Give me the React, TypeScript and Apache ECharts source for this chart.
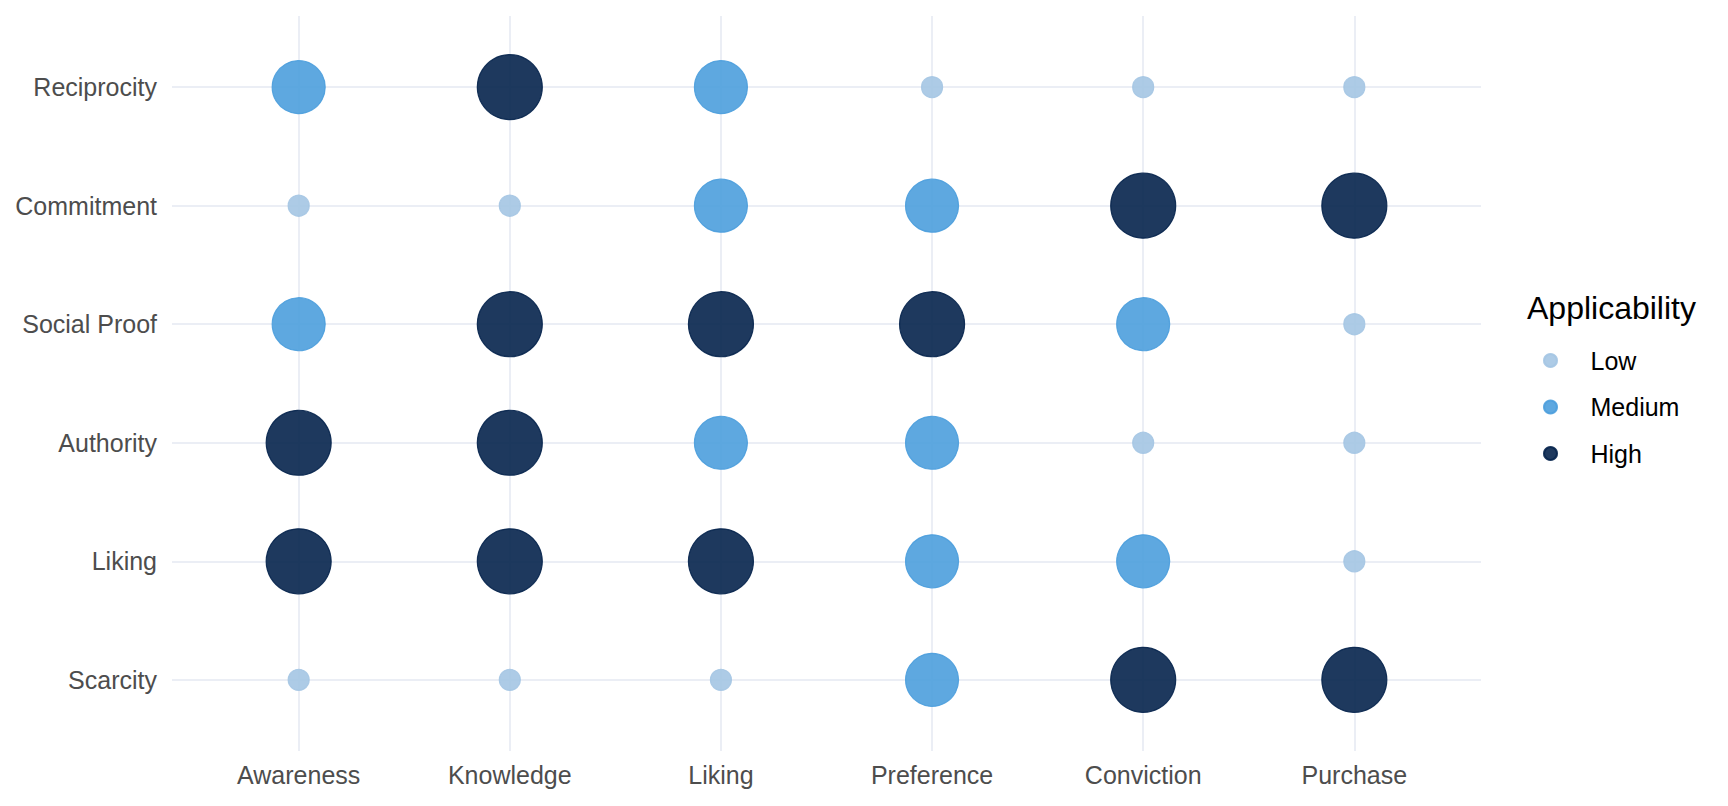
import React, { useEffect, useRef } from "react";
import * as echarts from "echarts";

const stages = ["Awareness", "Knowledge", "Liking", "Preference", "Conviction", "Purchase"];
const principles = ["Reciprocity", "Commitment", "Social Proof", "Authority", "Liking", "Scarcity"];
const levels = ["Low", "Medium", "High"];

// applicability per principle, one entry per stage
const reciprocity = ["Medium", "High", "Medium", "Low", "Low", "Low"];
const commitment = ["Low", "Low", "Medium", "Medium", "High", "High"];
const socialProof = ["Medium", "High", "High", "High", "Medium", "Low"];
const authority = ["High", "High", "Medium", "Medium", "Low", "Low"];
const liking = ["High", "High", "High", "Medium", "Medium", "Low"];
const scarcity = ["Low", "Low", "Low", "Medium", "High", "High"];

const matrix = [reciprocity, commitment, socialProof, authority, liking, scarcity];

const levelColors: Record<string, string> = {
  Low: "rgba(164,197,227,0.9)",
  Medium: "rgba(76,158,221,0.9)",
  High: "rgba(6,36,77,0.9)",
};
const levelSizes: Record<string, number> = { Low: 21, Medium: 53, High: 65 };

const FONT = "'Liberation Sans', Arial, Helvetica, sans-serif";
const GRID_COLOR = "#ebeef5";
const idx = [0, 1, 2, 3, 4, 5];

export default function App() {
  const ref = useRef<HTMLDivElement>(null);
  useEffect(() => {
    if (!ref.current) return;
    const chart = echarts.init(ref.current, null, { renderer: "svg" });
    const series = levels.map((lv) => {
      const data: number[][] = [];
      matrix.forEach((row, yi) => {
        row.forEach((v, xi) => {
          if (v === lv) data.push([xi, yi]);
        });
      });
      return {
        name: lv,
        type: "scatter",
        data,
        symbol: "circle",
        symbolSize: levelSizes[lv],
        itemStyle: {
          color: levelColors[lv],
          borderColor: levelColors[lv],
          borderWidth: 1.2,
          opacity: 1,
        },
        emphasis: { disabled: true },
      };
    });
    chart.setOption({
      animation: false,
      backgroundColor: "#ffffff",
      textStyle: { fontFamily: FONT },
      title: {
        text: "Applicability",
        left: 1527,
        top: 292,
        padding: 0,
        textStyle: { fontFamily: FONT, fontSize: 32, fontWeight: "normal", color: "#000000" },
      },
      legend: {
        orient: "vertical",
        left: 1543,
        top: 348,
        padding: 0,
        itemWidth: 70,
        itemHeight: 13,
        itemGap: 21.5,
        symbolKeepAspect: true,
        icon: "circle",
        data: levels,
        selectedMode: false,
        itemStyle: { opacity: 1 },
        textStyle: { fontFamily: FONT, fontSize: 25, color: "#000000", lineHeight: 24 },
      },
      grid: { left: 172, right: 247, top: 16, bottom: 55 },
      xAxis: {
        type: "value",
        min: -0.6,
        max: 5.6,
        axisLine: { show: false },
        axisTick: { show: false, customValues: idx },
        axisLabel: {
          customValues: idx,
          formatter: (v: number) => stages[Math.round(v)],
          fontFamily: FONT,
          fontSize: 25,
          color: "#4d4d4d",
          margin: 11,
        },
        splitLine: { show: true, lineStyle: { color: GRID_COLOR, width: 2 } },
      },
      yAxis: {
        type: "value",
        min: -0.6,
        max: 5.6,
        inverse: true,
        axisLine: { show: false },
        axisTick: { show: false, customValues: idx },
        axisLabel: {
          customValues: idx,
          formatter: (v: number) => principles[Math.round(v)],
          fontFamily: FONT,
          fontSize: 25,
          color: "#4d4d4d",
          margin: 15,
        },
        splitLine: { show: true, lineStyle: { color: GRID_COLOR, width: 2 } },
      },
      series,
    });
    return () => chart.dispose();
  }, []);
  return (
    <div
      ref={ref}
      style={{ position: "fixed", left: 0, top: 0, width: 1728, height: 806, background: "#fff" }}
    />
  );
}
